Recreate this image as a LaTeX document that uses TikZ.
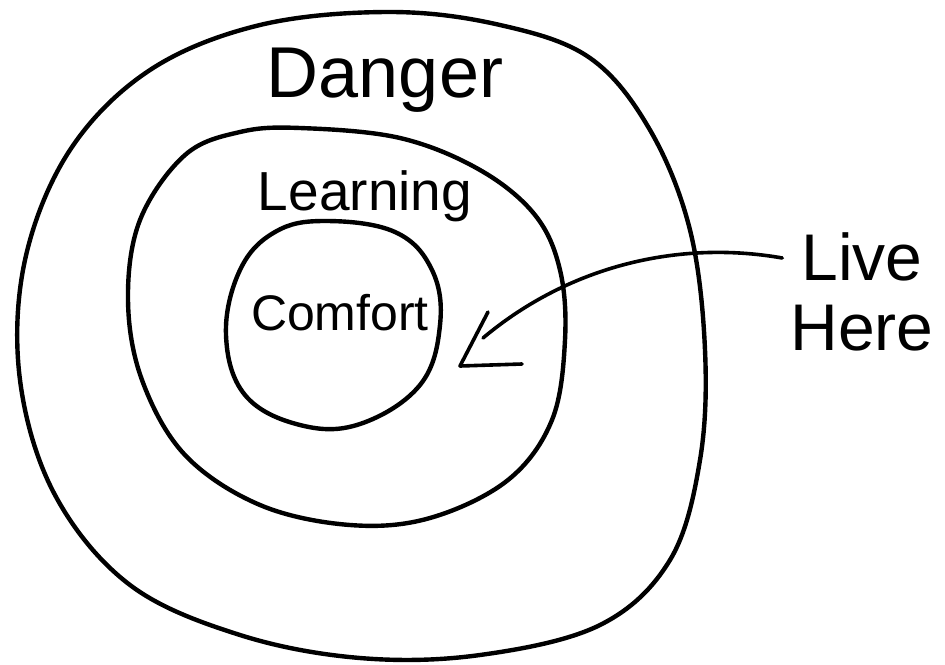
\documentclass[tikz,border=0pt]{standalone}
\usepackage{fontspec}
\setmainfont{Liberation Sans}
\begin{document}
\begin{tikzpicture}[x=1pt,y=-1pt,
  pen/.style={line width=4.4pt,line cap=round,line join=round,black},
  lbl/.style={inner sep=0pt,text=black}]
\useasboundingbox[fill=white] (0,0) rectangle (945,664);
% outer zone (Danger)
\draw[pen] plot[smooth cycle,tension=0.6] coordinates {
 (390,12) (500,25) (590,58) (650,130) (690,230) (705,350) (700,460)
 (670,560) (600,625) (480,655) (360,658) (240,635) (130,585) (55,495)
 (20,380) (25,260) (70,150) (150,70) (260,25)};
% middle zone (Learning)
\draw[pen] plot[smooth cycle,tension=0.6] coordinates {
 (300,128) (400,138) (480,170) (535,215) (560,270) (565,340) (552,420)
 (508,480) (430,518) (350,525) (260,505) (185,455) (142,380) (128,300)
 (140,220) (185,155) (240,132)};
% inner zone (Comfort)
\draw[pen] plot[smooth cycle,tension=0.65] coordinates {
 (325,221) (395,232) (432,270) (440,325) (420,385) (360,424) (300,425)
 (245,395) (226,335) (240,270) (275,232)};
\node[lbl,font=\fontsize{72}{80}\selectfont] (danger) at (385,80) {Danger};
\node[lbl,font=\fontsize{55}{60}\selectfont] (learning) at (365,196) {Learning};
\node[lbl,font=\fontsize{50}{56}\selectfont] (comfort) at (340,313) {Comfort};
\node[lbl,font=\fontsize{66}{70}\selectfont,align=center] (live) at (862,292) {Live\\Here};
% arrow
\coordinate (aend) at (483,338);
\coordinate (tip) at (460,366);
\draw[pen,line width=3.6pt] (live.west|-0,258) ++(-8,0) coordinate (astart)
  .. controls (680,240) and (570,265) .. (aend);
\draw[pen,line width=3.6pt] (488,312) -- (tip) -- (522,364);
\end{tikzpicture}
\end{document}
